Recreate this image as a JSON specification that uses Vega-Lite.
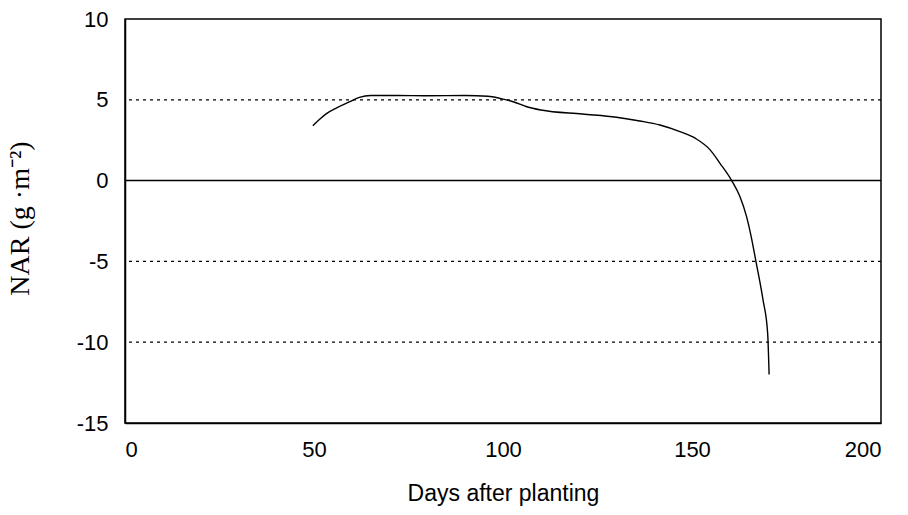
{
  "$schema": "https://vega.github.io/schema/vega-lite/v6.json",
  "width": 756,
  "height": 404,
  "autosize": {"type": "none"},
  "padding": {"left": 125, "top": 19, "right": 27, "bottom": 92},
  "background": "white",
  "config": {
    "view": {"stroke": "black", "strokeWidth": 1.5},
    "axis": {"grid": false, "ticks": false, "domainColor": "black", "domainWidth": 1.5, "labelColor": "black", "titleColor": "black"}
  },
  "datasets": {
    "curve": [
      {"day": 49.7, "nar": 3.4},
      {"day": 51.5, "nar": 3.8},
      {"day": 53.4, "nar": 4.16},
      {"day": 56, "nar": 4.5},
      {"day": 59.5, "nar": 4.88},
      {"day": 62, "nar": 5.15},
      {"day": 65, "nar": 5.27},
      {"day": 72, "nar": 5.27},
      {"day": 80, "nar": 5.25},
      {"day": 90, "nar": 5.27},
      {"day": 96, "nar": 5.22},
      {"day": 99.2, "nar": 5.09},
      {"day": 102.7, "nar": 4.88},
      {"day": 106.3, "nar": 4.57},
      {"day": 110, "nar": 4.37},
      {"day": 121, "nar": 4.12},
      {"day": 130, "nar": 3.92},
      {"day": 136.2, "nar": 3.69},
      {"day": 141.5, "nar": 3.44},
      {"day": 146.8, "nar": 3.03},
      {"day": 151, "nar": 2.6},
      {"day": 154.8, "nar": 1.9},
      {"day": 157.4, "nar": 1.07},
      {"day": 160.5, "nar": 0},
      {"day": 162.7, "nar": -1.0},
      {"day": 164.4, "nar": -2.2},
      {"day": 165.6, "nar": -3.4},
      {"day": 167, "nar": -5.1},
      {"day": 168.8, "nar": -7.4},
      {"day": 170, "nar": -9.4},
      {"day": 170.4, "nar": -12}
    ],
    "dotted": [{"y": 5}, {"y": -5}, {"y": -10}],
    "zero": [{"y": 0}]
  },
  "layer": [
    {
      "data": {"name": "dotted"},
      "mark": {"type": "rule", "color": "black", "strokeWidth": 1.2, "strokeDash": [3, 4]},
      "encoding": {"y": {"field": "y", "type": "quantitative", "scale": {"domain": [-15, 10]}}}
    },
    {
      "data": {"name": "zero"},
      "mark": {"type": "rule", "color": "black", "strokeWidth": 1.5},
      "encoding": {"y": {"field": "y", "type": "quantitative"}}
    },
    {
      "data": {"name": "curve"},
      "mark": {"type": "line", "color": "black", "strokeWidth": 1.4, "interpolate": "monotone"},
      "encoding": {
        "x": {
          "field": "day", "type": "quantitative",
          "scale": {"domain": [0, 200], "nice": false},
          "axis": {"values": [0, 50, 100, 150, 200], "labelExpr": "'' + datum.value", "title": "Days after planting", "labelFont": "Liberation Sans", "labelFontSize": 22, "labelPadding": 16, "labelBaseline": "top", "titleFont": "Liberation Sans", "titleFontSize": 23, "titleFontWeight": "normal", "titleY": 70, "titleBaseline": "middle"}
        },
        "y": {
          "field": "nar", "type": "quantitative",
          "scale": {"domain": [-15, 10], "nice": false},
          "axis": {"values": [-15, -10, -5, 0, 5, 10], "labelExpr": "'' + datum.value", "title": "NAR (g ·m⁻²)", "labelFont": "Liberation Sans", "labelFontSize": 22, "labelPadding": 17, "titleFont": "Liberation Serif", "titleFontSize": 28, "titleFontWeight": "normal", "titleX": -105, "titleY": 199, "titleBaseline": "middle", "titleAlign": "center", "titleAngle": -90}
        }
      }
    }
  ]
}
